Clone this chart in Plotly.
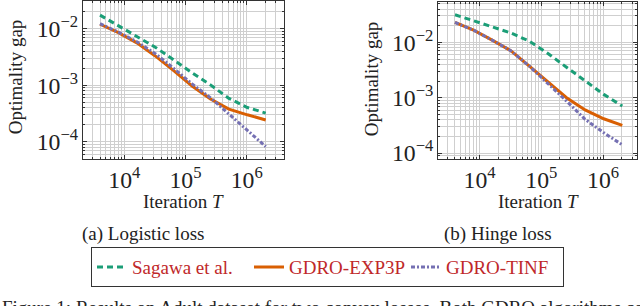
import plotly.graph_objects as go

# ---- data ----
iterations = [4000, 8000, 16000, 32000, 64000, 128000, 256000, 512000, 1024000, 2048000]

logistic_sagawa = [0.0174, 0.0112, 0.00741, 0.00473, 0.00282, 0.00166, 0.00102, 0.000589, 0.000407, 0.000324]
logistic_exp3p  = [0.0120, 0.00851, 0.00562, 0.00331, 0.00182, 0.000977, 0.000575, 0.000380, 0.000302, 0.000245]
logistic_tinf   = [0.0123, 0.00871, 0.00589, 0.00363, 0.00200, 0.00106, 0.000603, 0.000309, 0.000158, 0.0000832]

hinge_sagawa = [0.0316, 0.0245, 0.0191, 0.0148, 0.0105, 0.00631, 0.00355, 0.00200, 0.00115, 0.000708]
hinge_exp3p  = [0.0229, 0.0166, 0.0110, 0.00708, 0.00372, 0.00191, 0.00100, 0.000603, 0.000417, 0.000316]
hinge_tinf   = [0.0229, 0.0166, 0.0110, 0.00708, 0.00372, 0.00182, 0.000871, 0.000407, 0.000234, 0.000141]

series_names = ["Sagawa et al.", "GDRO-EXP3P", "GDRO-TINF"]
colors = ["#1b9e77", "#d95f02", "#7570b3"]
dashes = ["6px,4px", "solid", "4px,2px,2px,2px"]

W, H = 640, 306
FONT = "Liberation Serif, Times New Roman, serif"
FS = 19

fig = go.Figure()

panels = [
    ("x", "y", [logistic_sagawa, logistic_exp3p, logistic_tinf]),
    ("x2", "y2", [hinge_sagawa, hinge_exp3p, hinge_tinf]),
]
for pi, (xa, ya, ys) in enumerate(panels):
    for si, yv in enumerate(ys):
        fig.add_trace(go.Scatter(
            x=iterations, y=yv, mode="lines", xaxis=xa, yaxis=ya,
            name="<span style='font-family:Liberation Serif'>" + series_names[si] + "</span>",
            showlegend=(pi == 0),
            line=dict(color=colors[si], width=3, dash=dashes[si]),
        ))

def px_x(v):
    return v / W

def px_y(v):
    return 1 - v / H

grid_col = "#cfcfcf"
axis_common = dict(
    type="log", showline=True, linecolor="#333333", linewidth=1.3, mirror="ticks",
    ticks="inside", ticklen=4, tickcolor="#333333", dtick=1,
    exponentformat="power", showexponent="all",
    showgrid=True, gridcolor=grid_col, gridwidth=1, zeroline=False,
    minor=dict(dtick="D1", showgrid=True, gridcolor=grid_col, gridwidth=1,
               ticks="inside", ticklen=2, tickcolor="#333333"),
    tickfont=dict(family=FONT, size=FS, color="#222222"),
)

fig.update_layout(
    width=W, height=H, margin=dict(l=0, r=0, t=0, b=0),
    paper_bgcolor="white", plot_bgcolor="white",
    font=dict(family=FONT, size=FS, color="#222222"),
    xaxis=dict(axis_common, domain=[px_x(83), px_x(284)], range=[3.324, 6.61], anchor="y"),
    yaxis=dict(axis_common, domain=[px_y(163), px_y(1)], range=[-4.305, -1.51], anchor="x"),
    xaxis2=dict(axis_common, domain=[px_x(438.3), px_x(637.3)], range=[3.332, 6.554], anchor="y2"),
    yaxis2=dict(axis_common, domain=[px_y(162.7), px_y(2)], range=[-4.106, -1.27], anchor="x2"),
    legend=dict(
        orientation="h", x=px_x(91), y=px_y(253), xanchor="left", yanchor="top",
        bordercolor="#333333", borderwidth=1, bgcolor="white",
        font=dict(family=FONT, size=FS, color="#c0282a"),
        tracegroupgap=0, itemwidth=30, entrywidthmode="pixels", entrywidth=112,
    ),
)

ann = [
    dict(text="Optimality gap", x=px_x(15), y=px_y(79), textangle=-90),
    dict(text="Optimality gap", x=px_x(371), y=px_y(81), textangle=-90),
    dict(text="Iteration <i>T</i>", x=px_x(183), y=px_y(206), textangle=0),
    dict(text="Iteration <i>T</i>", x=px_x(538), y=px_y(206), textangle=0),
    dict(text="(a) Logistic loss", x=px_x(143), y=px_y(239), textangle=0),
    dict(text="(b) Hinge loss", x=px_x(498), y=px_y(239), textangle=0),
]
for a in ann:
    fig.add_annotation(
        text=a["text"], x=a["x"], y=a["y"], xref="paper", yref="paper",
        showarrow=False, textangle=a["textangle"], xanchor="center", yanchor="middle",
        font=dict(family=FONT, size=FS, color="#222222"),
    )

fig.add_annotation(
    text="Figure 1: Results on Adult dataset for two convex losses. Both GDRO algorithms converge",
    x=0, y=px_y(302), xref="paper", yref="paper", showarrow=False,
    xanchor="left", yanchor="top", font=dict(family=FONT, size=FS, color="#222222"),
)

fig.write_html("out.html", config={"displayModeBar": False},
               post_script="document.body.style.margin='0';")
